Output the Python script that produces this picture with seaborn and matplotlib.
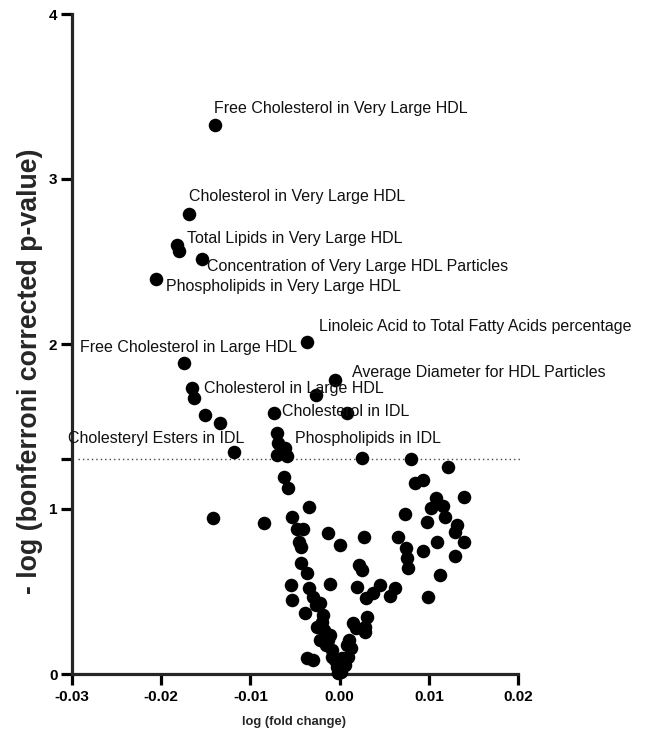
import matplotlib
matplotlib.use("Agg")
import matplotlib.pyplot as plt
import seaborn as sns
import pandas as pd

# ---- data: log fold change vs -log(bonferroni p) ----
log_fc = [
    -0.0140, -0.0169, -0.0182, -0.0180, -0.0154, -0.0206, -0.0036, -0.0174,
    -0.0005, -0.0166, -0.0163, -0.0026, -0.0151, -0.0134, -0.0074, 0.0008,
    -0.0118, -0.0070, -0.0069, -0.0061, -0.0070, -0.0059, 0.0025, 0.0080,
    0.0122, 0.0084, 0.0093, 0.0140, 0.0108, 0.0116, 0.0103, 0.0118,
    0.0073, 0.0098, 0.0132, 0.0129, 0.0139, 0.0109, 0.0094, 0.0129,
    0.0027, 0.0066, 0.0075, 0.0076, 0.0077, 0.0113, 0.0045, 0.0062,
    0.0037, 0.0030, 0.0056, 0.0099, 0.0022, 0.0025, 0.0019, -0.0062,
    -0.0058, -0.0142, -0.0085, -0.0034, -0.0053, -0.0048, -0.0041, -0.0045,
    -0.0043, -0.0013, 0.0000, -0.0043, -0.0036, -0.0054, -0.0053, -0.0034,
    -0.0030, -0.0011, -0.0039, -0.0022, -0.0019, -0.0025, -0.0017, -0.0011,
    -0.0022, -0.0015, -0.0009, -0.0008, -0.0003, -0.0002, 0.0031, 0.0028,
    0.0015, 0.0028, 0.0011, 0.0013, 0.0009, 0.0006, 0.0002, -0.0037,
    -0.0030, -0.0027, -0.0020, -0.0013, -0.0005, 0.0000, 0.0003, 0.0008,
    0.0018,
]
neg_log_p = [
    3.327, 2.788, 2.600, 2.564, 2.515, 2.394, 2.012, 1.885,
    1.782, 1.733, 1.673, 1.691, 1.570, 1.521, 1.582, 1.582,
    1.345, 1.461, 1.400, 1.370, 1.327, 1.321, 1.309, 1.303,
    1.255, 1.158, 1.176, 1.073, 1.067, 1.018, 1.006, 0.952,
    0.970, 0.921, 0.903, 0.861, 0.800, 0.800, 0.745, 0.715,
    0.830, 0.830, 0.764, 0.703, 0.642, 0.600, 0.539, 0.521,
    0.491, 0.461, 0.473, 0.467, 0.661, 0.630, 0.527, 1.194,
    1.127, 0.945, 0.915, 1.012, 0.952, 0.879, 0.879, 0.800,
    0.770, 0.855, 0.782, 0.673, 0.612, 0.539, 0.448, 0.521,
    0.467, 0.545, 0.370, 0.430, 0.358, 0.285, 0.267, 0.236,
    0.206, 0.176, 0.145, 0.103, 0.042, 0.005, 0.345, 0.285,
    0.309, 0.255, 0.206, 0.158, 0.103, 0.055, 0.012, 0.097,
    0.085, 0.418, 0.315, 0.206, 0.085, 0.036, 0.097, 0.176,
    0.279,
]

# labelled metabolites: (index into arrays, text)
label_index = [0, 1, 2, 4, 5, 6, 7, 8, 9, 14, 16, 19]
label_text = [
    "Free Cholesterol in Very Large HDL",
    "Cholesterol in Very Large HDL",
    "Total Lipids in Very Large HDL",
    "Concentration of Very Large HDL Particles",
    "Phospholipids in Very Large HDL",
    "Linoleic Acid to Total Fatty Acids percentage",
    "Free Cholesterol in Large HDL",
    "Average Diameter for HDL Particles",
    "Cholesterol in Large HDL",
    "Cholesterol in IDL",
    "Cholesteryl Esters in IDL",
    "Phospholipids in IDL",
]
# text offsets in pixels (dx, dy) and horizontal alignment
label_dx = [-1, 0, 10, 5, 10, 12, 4, 17, 12, 8, 10, 10]
label_dy = [17, 17, 7, -7, -8, 16, 15, 7, 0, 1, 14, 9]
label_ha = ["left", "left", "left", "left", "left", "left", "center", "left",
            "left", "left", "right", "left"]

threshold = 1.301
x_ticks = [-0.03, -0.02, -0.01, 0.00, 0.01, 0.02]
x_tick_labels = ["-0.03", "-0.02", "-0.01", "0.00", "0.01", "0.02"]
y_ticks = [0, 1, 1.301, 2, 3, 4]
y_tick_labels = ["0", "1", "", "2", "3", "4"]

df = pd.DataFrame({"logfc": log_fc, "nlp": neg_log_p})

sns.set_style("ticks")
plt.rcParams["font.family"] = ["Liberation Sans", "DejaVu Sans"]

fig = plt.figure(figsize=(6.49, 7.38), dpi=100)
ax = fig.add_axes([72 / 649, 64 / 738, 446 / 649, 660 / 738])

sns.scatterplot(data=df, x="logfc", y="nlp", ax=ax, color="black", s=95,
                edgecolor="black", linewidth=0, clip_on=False, zorder=3)

ax.plot([-0.0293, 0.0205], [threshold, threshold], color="#444444",
        linestyle=(0, (1, 2.2)), linewidth=1.0, clip_on=False, zorder=2)

px2pt = 0.72
for i, t, dx, dy, ha in zip(label_index, label_text, label_dx, label_dy, label_ha):
    ax.annotate(t, (log_fc[i], neg_log_p[i]), xytext=(dx * px2pt, dy * px2pt),
                textcoords="offset points", ha=ha, va="center",
                fontsize=11.5, color="#111111", zorder=4)

ax.set_xlim(-0.03, 0.02)
ax.set_ylim(0, 4)
ax.set_xticks(x_ticks)
ax.set_xticklabels(x_tick_labels, fontweight="bold", fontsize=11)
ax.set_yticks(y_ticks)
ax.set_yticklabels(y_tick_labels, fontweight="bold", fontsize=11)
ax.set_xlabel("log (fold change)", fontweight="bold", fontsize=9.4)
ax.set_ylabel("- log (bonferroni corrected p-value)", fontweight="bold",
              fontsize=19.3)
ax.xaxis.set_label_coords(0.498, -0.073)
ax.xaxis.label.set_va("center")
ax.yaxis.set_label_coords(-0.094, 0.458)
ax.yaxis.label.set_va("center")

for side in ["top", "right"]:
    ax.spines[side].set_visible(False)
for side in ["left", "bottom"]:
    ax.spines[side].set_linewidth(2.3)
ax.tick_params(axis="x", width=2.3, length=8, direction="out", pad=3.5,
               colors="black")
ax.tick_params(axis="y", width=2.3, length=8, direction="out", pad=2.5,
               colors="black")

fig.savefig("out.png", dpi=100)
